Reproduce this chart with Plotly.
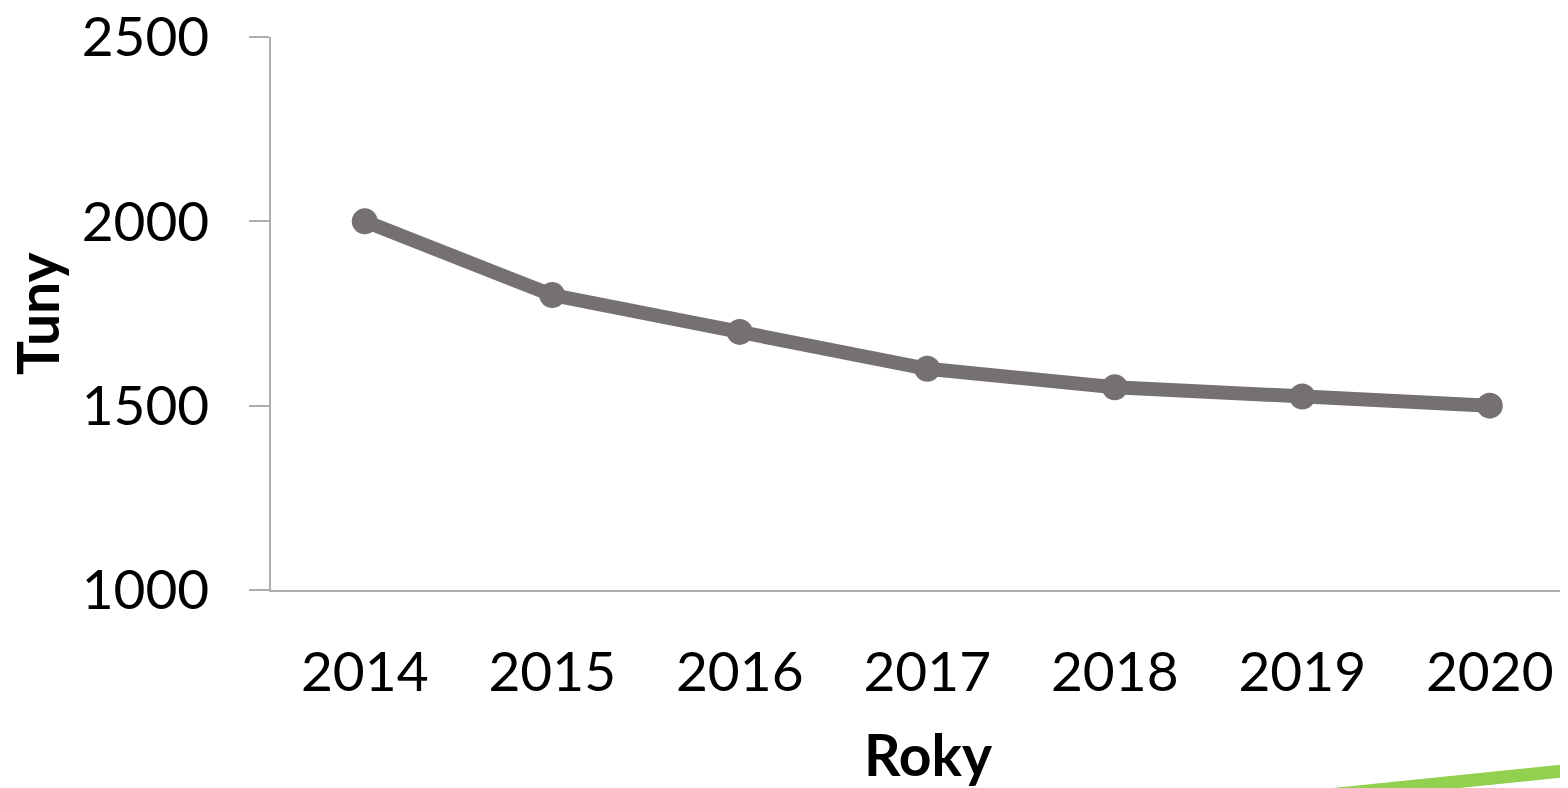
import plotly.graph_objects as go

years = ["2014", "2015", "2016", "2017", "2018", "2019", "2020"]
tons = [2000, 1800, 1700, 1600, 1550, 1525, 1500]
y_ticks = [1000, 1500, 2000, 2500]

# the page body adds an 8px offset; work in window pixels and subtract it
OFF = 8
W, H = 1568 - OFF, 788 - OFF
L = 271 - OFF
T = 37 - OFF
BOT = 590 - OFF
B = H - BOT
PW = W - L
PH = H - T - B

def px(xw):
    return (xw - OFF - L) / PW

def py(yw):
    return (BOT - (yw - OFF)) / PH

fig = go.Figure()
fig.add_trace(go.Scatter(
    x=years, y=tons, mode="lines+markers",
    line=dict(color="#767171", width=14),
    marker=dict(color="#767171", size=26),
    showlegend=False, hoverinfo="x+y",
))

FONT = "Lato"
fig.update_layout(
    width=W, height=H, autosize=False,
    margin=dict(l=L, r=0, t=T, b=B, pad=0, autoexpand=False),
    paper_bgcolor="white", plot_bgcolor="white",
    font=dict(family=FONT, color="black"),
    xaxis=dict(
        type="category", range=[-0.5, (PW / 187.5) - 0.5],
        showgrid=False, zeroline=False, automargin=False,
        showline=True, linecolor="#ADADAD", linewidth=1.5,
        ticks="", tickfont=dict(size=55, family=FONT),
        ticklabelstandoff=33, ticklabeloverflow="allow",
    ),
    yaxis=dict(
        range=[1000, 2500], tickvals=y_ticks,
        showgrid=False, zeroline=False, automargin=False,
        showline=True, linecolor="#ADADAD", linewidth=1.5,
        ticks="outside", ticklen=20, tickcolor="#ADADAD", tickwidth=1.5,
        tickfont=dict(size=55, family=FONT),
        ticklabelstandoff=29, ticklabeloverflow="allow",
    ),
    annotations=[
        dict(text="<b>Tuny</b>", xref="paper", yref="paper",
             x=px(37), y=py(314), xanchor="center", yanchor="middle",
             textangle=-90, showarrow=False,
             font=dict(size=57, family=FONT, color="black")),
        dict(text="<b>Roky</b>", xref="paper", yref="paper",
             x=px(928), y=py(754), xanchor="center", yanchor="middle",
             showarrow=False,
             font=dict(size=57, family=FONT, color="black")),
    ],
    shapes=[
        dict(type="path", xref="paper", yref="paper",
             path=(f"M {px(1333)} {py(788)} L {px(1568)} {py(764)} "
                   f"L {px(1568)} {py(777)} L {px(1460)} {py(788)} Z"),
             fillcolor="#92D050", line=dict(width=0), layer="above"),
    ],
)

fig.write_html("out.html")
